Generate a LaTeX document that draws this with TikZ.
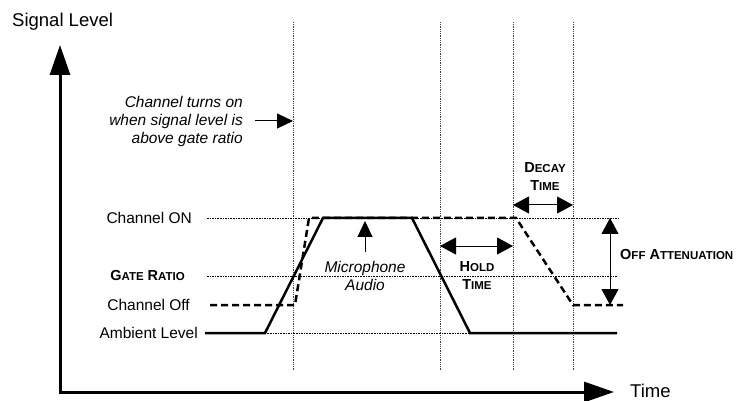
\documentclass[tikz,border=0pt]{standalone}
\usepackage{fontspec}
\setmainfont{Liberation Sans}
\usetikzlibrary{arrows.meta}
\newcommand{\capsc}[2]{{\fontsize{14.5}{18}\selectfont #1}{\fontsize{11.5}{18}\selectfont #2}}

\begin{document}
\begin{tikzpicture}[x=1pt,y=-1pt,
 axisline/.style={line width=3pt,{Triangle[length=30pt,width=20pt]}-{Triangle[length=30pt,width=20pt]}},
 guideline/.style={draw=black!75,line width=0.8pt,dash pattern=on 1pt off 0.8pt},
 levelline/.style={line width=0.6pt,dash pattern=on 1.6pt off 1pt},
 audioline/.style={line width=2.5pt,line join=miter},
 gateline/.style={line width=2.5pt,dash pattern=on 7pt off 4pt},
 spanarrow/.style={{Triangle[length=16pt,width=17pt]}-{Triangle[length=16pt,width=17pt]},line width=1pt},
 notearrow/.style={-{Triangle[length=16pt,width=15pt]},line width=1pt},
 plainlabel/.style={font=\fontsize{15.5}{18}\selectfont,inner sep=0pt},
 notelabel/.style={font=\fontsize{15.5}{18}\selectfont\itshape,inner sep=0pt},
 capslabel/.style={font=\bfseries\fontsize{14.5}{18}\selectfont,align=center,inner sep=0pt}
]
\useasboundingbox (0,0) rectangle (745,401);
\node[plainlabel,font=\fontsize{18.5}{20}\selectfont,anchor=base west] (sigtitle) at (12,27) {Signal Level};
\node[plainlabel,font=\fontsize{18.5}{20}\selectfont,anchor=base west] (timetitle) at (630,397) {Time};
\coordinate (origin) at (60,392);
\coordinate (ytop) at (60,45);
\coordinate (xend) at (614,392);
\draw[axisline] (ytop) -- (origin) -- (xend);
\foreach \gx [count=\gi] in {293,440,513,573} {
  \coordinate (g\gi t) at (\gx,22);
  \coordinate (g\gi b) at (\gx,370);
  \draw[guideline] (g\gi t) -- (g\gi b);
}
\node[plainlabel,anchor=east] (onlabel) at (192,218) {Channel ON};
\node[capslabel,anchor=east] (gatelabel) at (185,276) {\capsc{G}{ATE}\hspace{4pt}\capsc{R}{ATIO}};
\node[plainlabel,anchor=east] (offlabel) at (190,305) {Channel Off};
\node[plainlabel,anchor=east] (amblabel) at (198,333) {Ambient Level};
\coordinate (onstart) at (207,218);
\coordinate (onend) at (618,218);
\coordinate (gatestart) at (207,276);
\coordinate (gateend) at (617,276);
\coordinate (ambstart) at (205,333);
\coordinate (ambend) at (617,333);
\draw[levelline] (onstart) -- (onend);
\draw[levelline] (gatestart) -- (gateend);
\draw[levelline] (ambstart) -- (ambend);
\coordinate (riseA) at (265,333);
\coordinate (topA) at (323,218);
\coordinate (topB) at (412,218);
\coordinate (fallB) at (470,333);
\draw[audioline] (ambstart) -- (riseA) -- (topA) -- (topB) -- (fallB) -- (ambend);
\coordinate (offstart) at (210,305);
\coordinate (openA) at (295,305);
\coordinate (openB) at (309,218);
\coordinate (closeA) at (516,218);
\coordinate (closeB) at (573,305);
\coordinate (offend) at (623,305);
\draw[gateline] (offstart) -- (openA) -- (openB) -- (closeA) -- (closeB) -- (offend);
\node[notelabel,align=right,anchor=east] (turnon) at (243,121) {Channel turns on\\when signal level is\\above gate ratio};
\draw[notearrow] ([xshift=12pt]turnon.east) -- (g1t |- turnon.east);
\node[notelabel,align=center] (micnote) at (365,276) {Microphone\\Audio};
\draw[notearrow,shorten >=3pt] ([yshift=9pt]micnote.north) -- (micnote.north |- topA);
\coordinate (holdrow) at (0,246);
\node[capslabel] (holdnote) at (477,276) {\capsc{H}{OLD}\\\capsc{T}{IME}};
\draw[spanarrow] (g2t |- holdrow) -- (g3t |- holdrow);
\coordinate (decayrow) at (0,205);
\node[capslabel] (decaynote) at (545,177) {\capsc{D}{ECAY}\\\capsc{T}{IME}};
\draw[spanarrow] (g3t |- decayrow) -- (g4t |- decayrow);
\coordinate (attnx) at (610,0);
\node[capslabel,anchor=west] (offnote) at (620,255) {\capsc{O}{FF}\hspace{4pt}\capsc{A}{TTENUATION}};
\draw[spanarrow] (attnx |- onend) -- (attnx |- offend);
\end{tikzpicture}
\end{document}
